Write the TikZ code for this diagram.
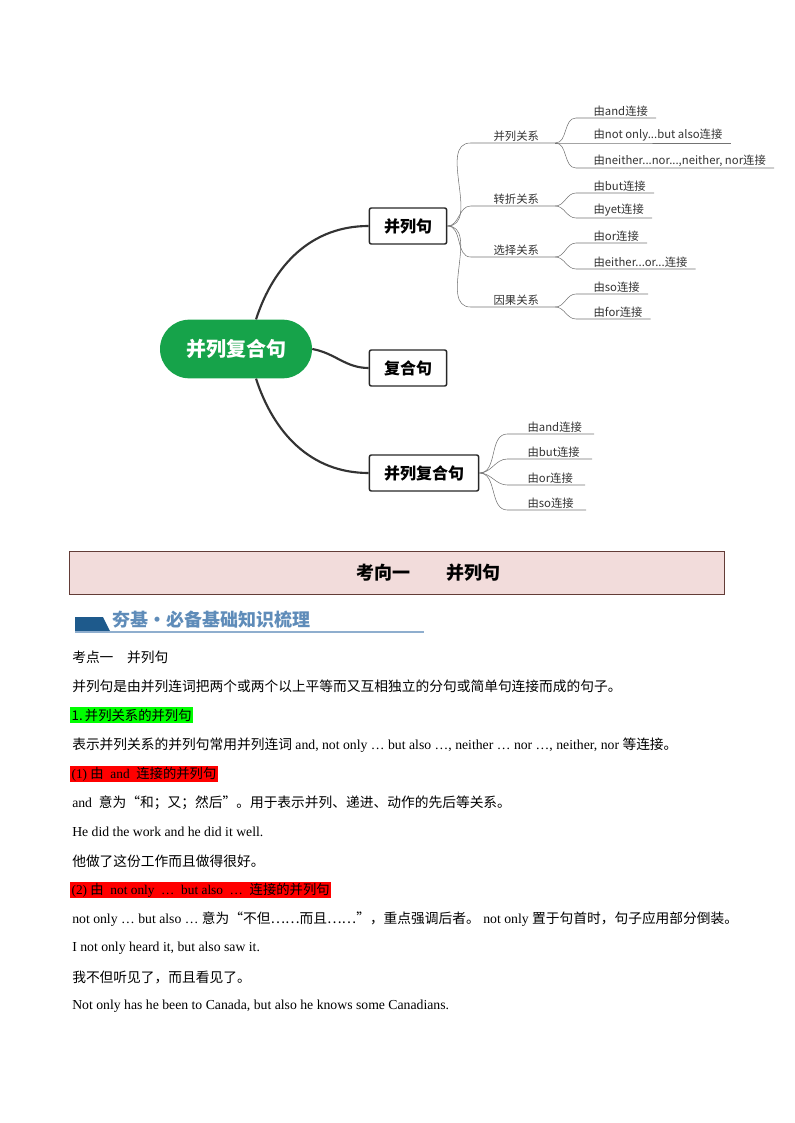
\documentclass[tikz,border=0pt]{standalone}
\usepackage{fontspec}
\setmainfont{Liberation Serif}
\newfontfamily\cjk{Noto Sans CJK SC}
\usetikzlibrary{positioning}
\definecolor{rootgreen}{RGB}{22,163,74}
\definecolor{titlepink}{RGB}{242,220,219}
\definecolor{titleborder}{RGB}{99,60,55}
\definecolor{bannerblue}{RGB}{30,90,140}
\definecolor{bannertext}{RGB}{95,140,185}
\tikzset{
  trunk/.style={line width=1.6pt,draw=black!80},
  twig/.style={line width=0.4pt,draw=black!55},
  branchbox/.style={draw=black!85,line width=1.1pt,rounded corners=1.5pt,font=\cjk\fontsize{12}{12}\selectfont\bfseries,inner xsep=11pt,minimum height=27pt},
  catlbl/.style={font=\cjk\fontsize{8.5}{9}\selectfont,text=black!80,inner sep=1pt,anchor=south west},
  leaf/.style={font=\cjk\fontsize{8.5}{9}\selectfont,text=black!80,inner sep=1pt,anchor=south west},
  line/.style={anchor=west,inner sep=0pt,font=\fontsize{10.3}{11}\selectfont},
  hilite/.style={anchor=west,inner sep=1pt,font=\fontsize{10}{11}\selectfont}
}
\begin{document}
\begin{tikzpicture}[x=0.75pt,y=-0.75pt]
\useasboundingbox (0,0) rectangle (794,1123);
% mind map
\node[fill=rootgreen,text=white,rounded corners=22pt,minimum width=114pt,minimum height=44pt,font=\cjk\fontsize{15}{15}\selectfont\bfseries] (root) at (236,349) {并列复合句};
\node[branchbox] (bA) at (408,226) {并列句};
\node[branchbox] (bB) at (408,368) {复合句};
\node[branchbox] (bC) at (424,473) {并列复合句};
\draw[trunk] ([xshift=15pt]root.north) to[out=72,in=180] (bA.west);
\draw[trunk] (root.east) to[out=-10,in=180] (bB.west);
\draw[trunk] ([xshift=15pt]root.south) to[out=-72,in=180] (bC.west);
% categories
\node[catlbl] (k1) at (492,143) {并列关系};
\node[catlbl] (k2) at (492,206) {转折关系};
\node[catlbl] (k3) at (492,257) {选择关系};
\node[catlbl] (k4) at (492,307) {因果关系};
\foreach \k in {k1,k2,k3,k4}
  \draw[twig] (bA.east) to[out=0,in=180] ([xshift=-16]\k.south west) -- ([xshift=11]\k.south east) coordinate (\k e);
% leaves
\node[leaf] (l1) at (592,118) {由and连接};
\node[leaf] (l2) at (592,143) {由not only...but also连接};
\node[leaf] (l3) at (592,168) {由neither...nor...,neither, nor连接};
\node[leaf] (l4) at (592,193) {由but连接};
\node[leaf] (l5) at (592,218) {由yet连接};
\node[leaf] (l6) at (592,243) {由or连接};
\node[leaf] (l7) at (592,269) {由either...or...连接};
\node[leaf] (l8) at (592,294) {由so连接};
\node[leaf] (l9) at (592,319) {由for连接};
\foreach \k/\l in {k1/l1,k1/l2,k1/l3,k2/l4,k2/l5,k3/l6,k3/l7,k4/l8,k4/l9}
  \draw[twig] (\k e) to[out=0,in=180] ([xshift=-12]\l.south west) -- ([xshift=5]\l.south east);
\node[leaf] (m1) at (526,434) {由and连接};
\node[leaf] (m2) at (526,459) {由but连接};
\node[leaf] (m3) at (526,485) {由or连接};
\node[leaf] (m4) at (526,510) {由so连接};
\foreach \m in {m1,m2,m3,m4}
  \draw[twig] (bC.east) to[out=0,in=180] ([xshift=-14]\m.south west) -- ([xshift=8]\m.south east);
% title bar
\node[draw=titleborder,fill=titlepink,minimum width=491pt,minimum height=32pt,anchor=north west,inner sep=0pt] (title) at (69,551) {};
\node[font=\cjk\fontsize{13.5}{14}\selectfont\bfseries] (titletxt) at (428,573) {考向一\hspace{2em}并列句};
% banner
\fill[bannerblue] (75,617) -- (103,617) -- (110,631) -- (75,631) -- cycle;
\node[anchor=west,inner sep=0pt,text=bannertext,font=\cjk\fontsize{13.5}{14}\selectfont\bfseries] (banner) at (112,620) {夯基·必备基础知识梳理};
\draw[bannertext!70,line width=0.8pt] (75,632) -- (424,632);
% body text
\node[line] (t1) at (72,657) {\cjk 考点一\hspace{1em}并列句};
\node[line] (t2) at (72,686) {\cjk 并列句是由并列连词把两个或两个以上平等而又互相独立的分句或简单句连接而成的句子。};
\node[hilite,fill=green] (t3) at (70,715) {\cjk 1.\,并列关系的并列句};
\node[line] (t4) at (72,745) {{\cjk 表示并列关系的并列句常用并列连词} and, not only … but also …, neither … nor …, neither, nor {\cjk 等连接。}};
\node[hilite,fill=red] (t5) at (70,774) {(1) {\cjk 由}\ \ and\ \ {\cjk 连接的并列句}};
\node[line] (t6) at (72,803) {and\ \ {\cjk 意为“和；又；然后”。用于表示并列、递进、动作的先后等关系。}};
\node[line] (t7) at (72,832) {He did the work and he did it well.};
\node[line] (t8) at (72,861) {\cjk 他做了这份工作而且做得很好。};
\node[hilite,fill=red] (t9) at (70,890) {(2)\ {\cjk 由}\ \ not only\ \ …\ \ but also\ \ …\ \ {\cjk 连接的并列句}};
\node[line] (t10) at (72,919) {not only … but also …\ {\cjk 意为“不但……而且……”，重点强调后者。}\ not only\ {\cjk 置于句首时，句子应用部分倒装。}};
\node[line] (t11) at (72,948) {I not only heard it, but also saw it.};
\node[line] (t12) at (72,977) {\cjk 我不但听见了，而且看见了。};
\node[line] (t13) at (72,1006) {Not only has he been to Canada, but also he knows some Canadians.};
\end{tikzpicture}
\end{document}
